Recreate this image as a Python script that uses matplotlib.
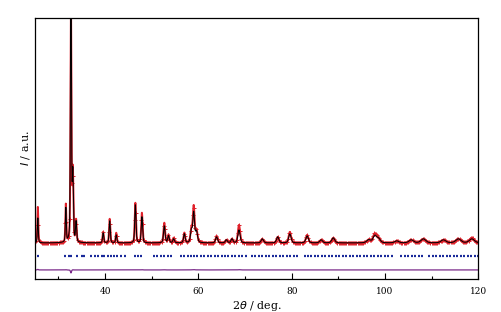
import numpy as np
import matplotlib
matplotlib.use("Agg")
import matplotlib.pyplot as plt

peak_pos = [25.6, 31.6, 32.7, 33.1, 33.8, 39.6, 41.0, 42.4, 46.5, 47.9, 52.7, 53.6, 54.7,
            57.0, 58.5, 59.0, 59.6, 63.9, 66.0, 67.2, 68.7, 73.7, 77.0, 79.6, 83.3, 86.3,
            88.9, 96.5, 97.8, 98.6, 102.5, 105.6, 108.2, 112.5, 115.7, 118.6]
peak_obs = [36, 38, 240, 70, 22, 11, 24, 10, 40, 30, 20, 8, 5,
            10, 14, 36, 12, 7, 3, 4, 18, 4, 6, 11, 8, 3,
            5, 3, 9, 4, 2, 3, 4, 3, 4, 5]
peak_calc = [25, 34, 300, 66, 20, 10, 22, 8, 38, 26, 17, 7, 4,
             9, 12, 30, 11, 6, 3, 4, 13, 4, 6, 9, 7, 3,
             5, 3, 7, 4, 2, 3, 4, 3, 4, 4]
peak_hw = [0.12, 0.12, 0.12, 0.14, 0.14, 0.15, 0.15, 0.15, 0.16, 0.17, 0.2, 0.2, 0.2,
           0.2, 0.22, 0.22, 0.25, 0.25, 0.25, 0.25, 0.28, 0.3, 0.3, 0.3, 0.32, 0.35,
           0.38, 0.5, 0.45, 0.45, 0.5, 0.55, 0.6, 0.6, 0.65, 0.65]

# Bragg reflection positions (blue tick row)
refl_pos = [25.6, 31.5, 32.2, 32.8, 33.9, 35.0, 35.6, 37.0, 37.8, 38.5, 39.3, 39.8,
            40.6, 41.2, 42.0, 42.6, 43.5, 44.2, 46.4, 47.0, 47.8, 50.5, 51.2, 52.0,
            52.7, 53.5, 54.2, 56.3, 57.0, 57.8, 58.4, 59.1, 59.8, 60.6, 61.3, 62.0,
            62.8, 63.5, 64.3, 65.0, 65.8, 66.4, 67.2, 67.9, 68.7, 69.4, 70.2, 71.5,
            72.2, 73.0, 73.7, 74.5, 75.2, 76.0, 76.7, 77.5, 78.2, 79.0, 79.7, 80.5,
            81.1, 82.8, 83.5, 84.2, 85.0, 85.7, 86.5, 87.2, 88.0, 88.7, 89.5, 90.2,
            91.0, 91.7, 92.5, 93.2, 94.0, 94.7, 95.5, 96.2, 97.0, 97.7, 98.5, 99.2,
            100.0, 100.7, 101.5, 103.5, 104.2, 105.0, 105.7, 106.5, 107.2, 108.0,
            109.5, 110.2, 111.0, 111.7, 112.5, 113.2, 114.0, 114.7, 115.5, 116.2,
            117.0, 117.7, 118.5, 119.2, 119.9]

x = np.arange(25.0, 120.0, 0.02)


def profile(heights):
    # pseudo-Voigt peaks
    y = np.zeros_like(x)
    for p, h, w in zip(peak_pos, heights, peak_hw):
        u = (x - p) / w
        y += h * (0.4 / (1 + u ** 2) + 0.6 * np.exp(-np.log(2) * u ** 2))
    return y


y_obs = profile(peak_obs)
y_calc = profile(peak_calc)
y_diff = (y_obs - y_calc) * 0.05 - 27

fig = plt.figure(figsize=(5.01, 3.12), dpi=100)
ax = fig.add_axes([0.0699, 0.106, 0.885, 0.836])

ax.plot(x, y_obs, color="#e0202a", lw=1.4, marker="+", ms=3, mew=0.7, markevery=12)
ax.plot(x, y_calc, color="black", lw=0.7)
ax.plot(refl_pos, [-13] * len(refl_pos), linestyle="none", marker="_", ms=1.8,
        mew=1.6, color="#1a2a9a")
ax.plot(x, y_diff, color="#7a2a8a", lw=0.9)

ax.set_xlim(25, 120)
ax.set_ylim(-36, 225)
ax.set_xticks([40, 60, 80, 100, 120])
ax.set_xticks([30, 50, 70, 90, 110], minor=True)
ax.set_yticks([])
ax.tick_params(axis="x", which="major", direction="in", length=4, width=0.8,
               labelsize=6.5, pad=6)
ax.tick_params(axis="x", which="minor", direction="in", length=2, width=0.8)
for lbl in ax.get_xticklabels():
    lbl.set_family("DejaVu Serif")
for s in ax.spines.values():
    s.set_linewidth(0.9)

ax.set_xlabel(r"2$\theta$ / deg.", family="DejaVu Serif", fontsize=8, labelpad=2)
ax.set_ylabel(r"$I$ / a.u.", family="DejaVu Serif", fontsize=8, labelpad=2)

fig.savefig("out.png", dpi=100)
